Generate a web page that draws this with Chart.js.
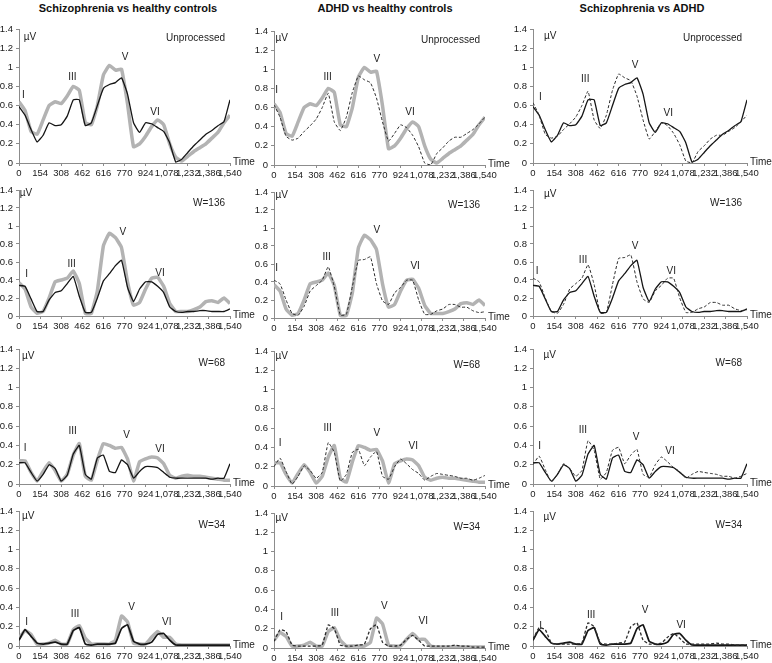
<!DOCTYPE html>
<html>
<head>
<meta charset="utf-8">
<script src="https://cdn.jsdelivr.net/npm/chart.js@4.4.1/dist/chart.umd.min.js"></script>
<style>
  body { margin: 0; background: #fff; width: 772px; height: 663px; position: relative; overflow: hidden;
         font-family: "Liberation Sans", Arial, sans-serif; }
  .title { position: absolute; top: 2px; font-weight: bold; font-size: 11px; text-align: center; color: #111; }
  canvas { position: absolute; }
</style>
</head>
<body>
<div class="title" style="left:0;width:256px">Schizophrenia vs healthy controls</div>
<div class="title" style="left:257px;width:256px">ADHD vs healthy controls</div>
<div class="title" style="left:514px;width:256px">Schizophrenia vs ADHD</div>
<script>
// time axis (every 44 samples) and tick labels
const times = [0,44,88,132,176,220,264,308,352,396,440,484,528,572,616,660,704,748,792,836,880,924,968,1012,1056,1100,1144,1188,1232,1276,1320,1364,1408,1452,1496,1540];
const timeTicks = [0,154,308,462,616,770,924,1078,1232,1386,1540];
const uvTicks = [0,0.2,0.4,0.6,0.8,1,1.2,1.4];
const tags = ['Unprocessed', 'W=136', 'W=68', 'W=34'];

// unprocessed
const rawHealthy = [0.64,0.55,0.33,0.30,0.45,0.60,0.64,0.62,0.70,0.80,0.76,0.42,0.40,0.60,0.92,1.02,0.97,0.98,0.62,0.17,0.20,0.28,0.38,0.45,0.40,0.20,0.06,0.02,0.07,0.12,0.16,0.20,0.26,0.32,0.42,0.50];
const rawSchizo  = [0.59,0.50,0.35,0.22,0.29,0.42,0.39,0.40,0.49,0.66,0.66,0.39,0.42,0.60,0.78,0.82,0.84,0.89,0.72,0.42,0.32,0.42,0.41,0.37,0.33,0.21,0.01,0.04,0.11,0.18,0.24,0.30,0.34,0.39,0.43,0.66];
const rawAdhd    = [0.63,0.50,0.30,0.26,0.28,0.35,0.41,0.48,0.60,0.75,0.45,0.36,0.50,0.76,0.93,0.89,0.86,0.70,0.45,0.25,0.33,0.42,0.39,0.31,0.19,0.02,0.00,0.12,0.18,0.25,0.29,0.29,0.33,0.37,0.43,0.50];
// W=136
const w136Healthy = [0.37,0.30,0.10,0.03,0.05,0.20,0.38,0.40,0.42,0.50,0.36,0.03,0.03,0.28,0.78,0.92,0.87,0.76,0.38,0.12,0.15,0.30,0.42,0.43,0.33,0.14,0.05,0.05,0.05,0.07,0.10,0.16,0.17,0.15,0.20,0.14];
const w136Schizo  = [0.34,0.33,0.19,0.05,0.05,0.18,0.26,0.28,0.36,0.44,0.22,0.04,0.04,0.20,0.39,0.47,0.56,0.62,0.32,0.16,0.30,0.38,0.38,0.33,0.26,0.10,0.05,0.04,0.05,0.05,0.06,0.06,0.05,0.05,0.05,0.08];
const w136Adhd    = [0.42,0.38,0.20,0.05,0.03,0.13,0.30,0.36,0.42,0.57,0.35,0.03,0.04,0.35,0.64,0.65,0.68,0.38,0.19,0.15,0.28,0.34,0.42,0.42,0.20,0.04,0.04,0.08,0.10,0.15,0.15,0.12,0.12,0.08,0.06,0.07];
// W=68
const w68Healthy = [0.24,0.24,0.12,0.03,0.13,0.22,0.14,0.03,0.10,0.30,0.42,0.08,0.04,0.25,0.42,0.40,0.37,0.38,0.26,0.03,0.23,0.26,0.28,0.27,0.21,0.09,0.06,0.08,0.09,0.08,0.08,0.07,0.06,0.05,0.04,0.04];
const w68Schizo  = [0.22,0.22,0.12,0.03,0.10,0.20,0.16,0.03,0.09,0.31,0.40,0.10,0.05,0.27,0.30,0.13,0.12,0.25,0.20,0.06,0.13,0.18,0.18,0.17,0.12,0.07,0.06,0.06,0.06,0.06,0.06,0.06,0.05,0.06,0.06,0.21];
const w68Adhd    = [0.20,0.29,0.15,0.02,0.10,0.21,0.16,0.08,0.14,0.45,0.35,0.05,0.12,0.35,0.38,0.21,0.30,0.36,0.10,0.07,0.20,0.28,0.23,0.17,0.13,0.06,0.10,0.13,0.12,0.11,0.10,0.08,0.08,0.06,0.08,0.11];
// W=34
const w34Healthy = [0.08,0.16,0.12,0.02,0.02,0.03,0.06,0.02,0.02,0.17,0.21,0.08,0.02,0.02,0.02,0.02,0.06,0.31,0.25,0.03,0.02,0.02,0.09,0.15,0.09,0.09,0.02,0.01,0.01,0.01,0.01,0.01,0.01,0.01,0.01,0.01];
const w34Schizo  = [0.06,0.17,0.10,0.03,0.02,0.03,0.04,0.02,0.02,0.16,0.19,0.02,0.01,0.02,0.02,0.02,0.03,0.18,0.22,0.05,0.02,0.02,0.04,0.12,0.13,0.06,0.01,0.01,0.01,0.01,0.01,0.01,0.01,0.01,0.01,0.01];
const w34Adhd    = [0.07,0.19,0.17,0.03,0.02,0.02,0.02,0.02,0.03,0.24,0.20,0.03,0.02,0.02,0.03,0.04,0.20,0.24,0.06,0.02,0.02,0.03,0.09,0.13,0.08,0.02,0.02,0.02,0.02,0.02,0.03,0.02,0.02,0.01,0.01,0.01];

const healthy = [rawHealthy, w136Healthy, w68Healthy, w34Healthy];
const schizo = [rawSchizo, w136Schizo, w68Schizo, w34Schizo];
const adhd = [rawAdhd, w136Adhd, w68Adhd, w34Adhd];

// peak labels [text, time, uV] per row / column
const peaks = [
  [[['I',32,0.71],['III',390,0.9],['V',774,1.11],['VI',993,0.53],['\u00b5V',80,1.31]],
   [['I',20,0.78],['III',392,0.92],['V',750,1.1],['VI',993,0.55],['\u00b5V',56,1.32]],
   [['I',53,0.69],['III',376,0.87],['V',735,1.02],['VI',974,0.52],['\u00b5V',124,1.32]]],
  [[['I',56,0.46],['III',384,0.58],['V',757,0.93],['VI',1029,0.47],['\u00b5V',50,1.36]],
   [['I',20,0.55],['III',384,0.67],['V',750,0.97],['VI',1030,0.57],['\u00b5V',56,1.36]],
   [['I',29,0.5],['III',360,0.62],['V',735,0.77],['VI',995,0.5],['\u00b5V',124,1.35]]],
  [[['I',44,0.37],['III',392,0.55],['V',786,0.51],['VI',1029,0.36],['\u00b5V',68,1.33]],
   [['I',44,0.44],['III',392,0.6],['V',750,0.55],['VI',1017,0.41],['\u00b5V',56,1.35]],
   [['I',48,0.39],['III',359,0.56],['V',741,0.49],['VI',986,0.34],['\u00b5V',120,1.34]]],
  [[['I',56,0.25],['III',409,0.33],['V',822,0.4],['VI',1078,0.25],['\u00b5V',68,1.35]],
   [['I',56,0.32],['III',445,0.36],['V',805,0.43],['VI',1090,0.28],['\u00b5V',56,1.35]],
   [['I',55,0.2],['III',419,0.32],['V',807,0.37],['VI',1066,0.22],['\u00b5V',120,1.34]]]
];

const FONT = '"Liberation Sans", Arial, sans-serif';
const colLeft = [19, 274, 533], colRight = [230, 485, 747], colShift = [0, 2, 0];
const rowTop = [29, 190, 349, 511], rowBottom = [163, 316, 484, 646];
const PAD_L = 19, PAD_T = 10, PAD_R = 30, PAD_B = 18;

const notes = {
  id: 'notes',
  afterDatasetsDraw(chart, args, opts) {
    const { ctx, chartArea, scales: { x, y } } = chart;
    ctx.save();
    ctx.fillStyle = '#222';
    ctx.font = '10px ' + FONT;
    ctx.textBaseline = 'middle';
    ctx.textAlign = 'center';
    opts.marks.forEach(([t, vx, vy]) => ctx.fillText(t, x.getPixelForValue(vx), y.getPixelForValue(vy)));
    ctx.textAlign = 'right';
    ctx.fillText(opts.tag, chartArea.right - 5, y.getPixelForValue(opts.tagY));
    ctx.textAlign = 'left';
    ctx.fillText('Time', chartArea.right + 3, chartArea.bottom - 1);
    ctx.restore();
  }
};

function line(data, kind, thick) {
  const base = { data: data, pointRadius: 0, tension: 0.12, fill: false };
  if (kind === 'h') return { ...base, borderColor: '#b3b3b3', borderWidth: 3.5, order: 2 };
  if (kind === 's') return { ...base, borderColor: '#151515', borderWidth: thick ? 1.7 : 1.3, order: 1 };
  return { ...base, borderColor: '#2b2b2b', borderWidth: thick ? 1.3 : 1, borderDash: [3, 2], order: 0 };
}

for (let r = 0; r < 4; r++) {
  for (let c = 0; c < 3; c++) {
    const top = rowTop[r] + colShift[c], bottom = rowBottom[r] + colShift[c];
    const cv = document.createElement('canvas');
    const w = colRight[c] - colLeft[c] + PAD_L + PAD_R;
    const h = bottom - top + PAD_T + PAD_B;
    cv.width = w; cv.height = h;
    cv.style.left = (colLeft[c] - PAD_L) + 'px';
    cv.style.top = (top - PAD_T) + 'px';
    cv.style.width = w + 'px'; cv.style.height = h + 'px';
    document.body.appendChild(cv);

    const thick = r === 3;
    const sets = c === 0 ? [line(healthy[r], 'h'), line(schizo[r], 's', thick)]
               : c === 1 ? [line(healthy[r], 'h'), line(adhd[r], 'a', thick)]
               : [line(schizo[r], 's', thick), line(adhd[r], 'a', thick)];

    new Chart(cv, {
      type: 'line',
      data: { labels: times, datasets: sets },
      options: {
        responsive: false,
        animation: false,
        layout: { padding: { left: 0, top: PAD_T, right: PAD_R, bottom: 0 } },
        plugins: {
          legend: { display: false },
          tooltip: { enabled: false },
          notes: { marks: peaks[r][c], tag: tags[r], tagY: r === 0 ? 1.3 : 1.25 }
        },
        scales: {
          x: {
            type: 'linear', min: 0, max: 1540,
            afterFit(s) { s.height = PAD_B; },
            afterBuildTicks(s) { s.ticks = timeTicks.map(v => ({ value: v })); },
            border: { color: '#8c8c8c', width: 1 },
            grid: { drawOnChartArea: false, tickLength: 3, color: '#8c8c8c' },
            ticks: { autoSkip: false, maxRotation: 0, padding: 2, color: '#1a1a1a',
                     font: { size: 9.5, family: FONT },
                     callback: v => v.toLocaleString('en-US') }
          },
          y: {
            min: 0, max: 1.4,
            afterFit(s) { s.width = PAD_L; },
            afterBuildTicks(s) { s.ticks = uvTicks.map(v => ({ value: v })); },
            border: { color: '#8c8c8c', width: 1 },
            grid: { drawOnChartArea: false, tickLength: 3, color: '#8c8c8c' },
            ticks: { padding: 3, color: '#1a1a1a', font: { size: 9.5, family: FONT },
                     callback: v => String(Math.round(v * 10) / 10) }
          }
        }
      },
      plugins: [notes]
    });
  }
}
</script>
</body>
</html>
